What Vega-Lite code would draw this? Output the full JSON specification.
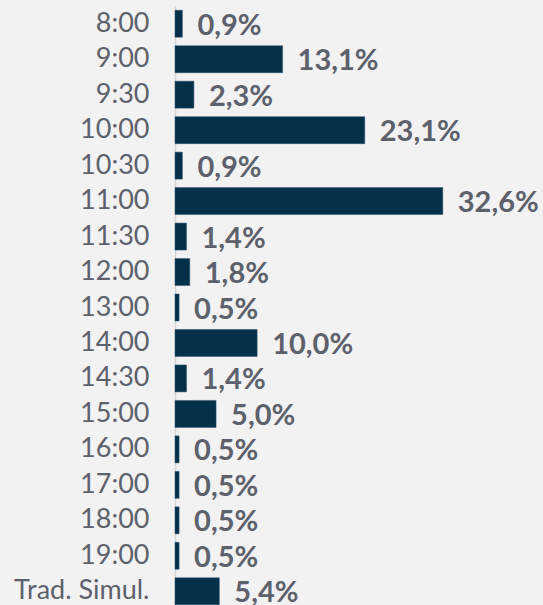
{
  "$schema": "https://vega.github.io/schema/vega-lite/v6.json",
  "autosize": {"type": "none"},
  "padding": {"left": 175, "top": 6, "right": 0, "bottom": 0},
  "width": 368,
  "height": 603,
  "background": "#f2f2f2",
  "data": {"values": [
    {"hora": "8:00", "pct": 0.9, "label": "0,9%"},
    {"hora": "9:00", "pct": 13.1, "label": "13,1%"},
    {"hora": "9:30", "pct": 2.3, "label": "2,3%"},
    {"hora": "10:00", "pct": 23.1, "label": "23,1%"},
    {"hora": "10:30", "pct": 0.9, "label": "0,9%"},
    {"hora": "11:00", "pct": 32.6, "label": "32,6%"},
    {"hora": "11:30", "pct": 1.4, "label": "1,4%"},
    {"hora": "12:00", "pct": 1.8, "label": "1,8%"},
    {"hora": "13:00", "pct": 0.5, "label": "0,5%"},
    {"hora": "14:00", "pct": 10.0, "label": "10,0%"},
    {"hora": "14:30", "pct": 1.4, "label": "1,4%"},
    {"hora": "15:00", "pct": 5.0, "label": "5,0%"},
    {"hora": "16:00", "pct": 0.5, "label": "0,5%"},
    {"hora": "17:00", "pct": 0.5, "label": "0,5%"},
    {"hora": "18:00", "pct": 0.5, "label": "0,5%"},
    {"hora": "19:00", "pct": 0.5, "label": "0,5%"},
    {"hora": "Trad. Simul.", "pct": 5.4, "label": "5,4%"}
  ]},
  "encoding": {
    "y": {
      "field": "hora", "type": "nominal", "sort": null,
      "scale": {"paddingInner": 0.24, "paddingOuter": 0.12},
      "axis": {
        "title": null, "ticks": false, "domain": true, "domainColor": "#d6d6d6", "domainWidth": 1.5,
        "labelFont": "Lato", "labelFontSize": 27, "labelColor": "#5d616c", "labelPadding": 26, "labelBaseline": "middle"
      }
    },
    "x": {
      "field": "pct", "type": "quantitative",
      "scale": {"domain": [0, 44.8], "nice": false},
      "axis": null
    }
  },
  "layer": [
    {"mark": {"type": "bar", "color": "#05304a", "stroke": "#2a5570", "strokeWidth": 0.5}},
    {
      "mark": {"type": "text", "align": "left", "baseline": "middle", "dx": 15, "dy": 2, "font": "Lato", "fontSize": 29, "fontWeight": "bold", "color": "#5d616c", "clip": false},
      "encoding": {"text": {"field": "label"}}
    }
  ],
  "config": {"view": {"stroke": null}}
}
